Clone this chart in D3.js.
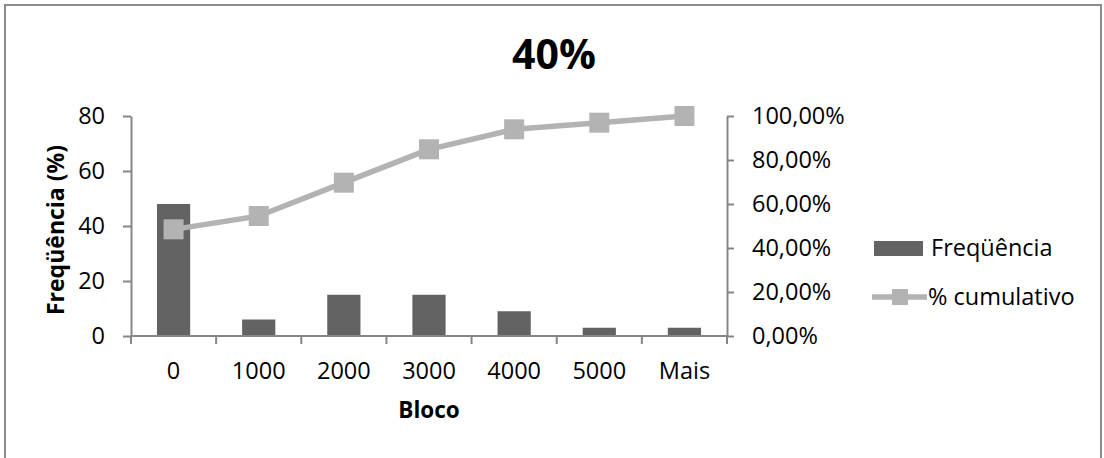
<!DOCTYPE html>
<html>
<head>
<meta charset="utf-8">
<script src="https://cdn.jsdelivr.net/npm/d3@7"></script>
<style>
  html, body { margin: 0; padding: 0; background: #fff; }
  svg { display: block; }
  text { font-family: "Open Sans", sans-serif; fill: #000; }
</style>
</head>
<body>
<svg id="chart" width="1104" height="458"></svg>
<script>
const categories = ["0", "1000", "2000", "3000", "4000", "5000", "Mais"];
const frequencia = [48, 6, 15, 15, 9, 3, 3];
const cumulativo = [0.4848, 0.5455, 0.6970, 0.8485, 0.9394, 0.9697, 1.0];
const leftTicks = [0, 20, 40, 60, 80];
const rightTicks = [0, 0.2, 0.4, 0.6, 0.8, 1.0];
const title = "40%";
const xTitle = "Bloco";
const yTitle = "Freqüência (%)";
const seriesNames = ["Freqüência", "% cumulativo"];

const svg = d3.select("#chart");
const plot = { left: 131, right: 727, top: 116, bottom: 336 };
const barColor = "#636363", lineColor = "#b3b3b3", axisColor = "#868686";
const fs = 23.5;

// border
svg.append("rect").attr("x", 5).attr("y", 5).attr("width", 1096).attr("height", 470)
  .attr("fill", "#fff").attr("stroke", "#8c8c8c").attr("stroke-width", 2);

const x = d3.scaleBand().domain(categories).range([plot.left, plot.right])
  .paddingInner(0.61).paddingOuter(0.305);
const yL = d3.scaleLinear().domain([0, 80]).range([plot.bottom, plot.top]);
const yR = d3.scaleLinear().domain([0, 1]).range([plot.bottom, plot.top]);

// bars
svg.append("g").selectAll("rect").data(frequencia).join("rect")
  .attr("x", (d, i) => x(categories[i]))
  .attr("y", d => yL(d))
  .attr("width", x.bandwidth())
  .attr("height", d => yL(0) - yL(d))
  .attr("fill", barColor);

// axes
const fmtR = d => d3.format(".2f")(d * 100).replace(".", ",") + "%";
function styleAxis(g) {
  g.selectAll(".domain").attr("stroke", axisColor).attr("stroke-width", 2);
  g.selectAll(".tick line").attr("stroke", axisColor).attr("stroke-width", 2);
  g.selectAll(".tick text").style("font-family", '"Open Sans", sans-serif')
    .style("font-size", fs + "px").attr("fill", "#000");
}
const gL = svg.append("g").attr("transform", `translate(${plot.left},0)`)
  .call(d3.axisLeft(yL).tickValues(leftTicks).tickSize(8).tickSizeOuter(0).tickPadding(18));
styleAxis(gL);
const gR = svg.append("g").attr("transform", `translate(${plot.right},0)`)
  .call(d3.axisRight(yR).tickValues(rightTicks).tickFormat(fmtR).tickSize(7).tickSizeOuter(0).tickPadding(18));
styleAxis(gR);

// x axis with ticks at category boundaries
const step = x.step();
const gX = svg.append("g").attr("transform", `translate(0,${plot.bottom})`);
gX.append("line").attr("x1", plot.left).attr("x2", plot.right).attr("y1", 0).attr("y2", 0)
  .attr("stroke", axisColor).attr("stroke-width", 2);
const boundaries = d3.range(categories.length + 1).map(i => plot.left + i * step);
gX.selectAll("line.tk").data(boundaries).join("line").attr("class", "tk")
  .attr("x1", d => d).attr("x2", d => d).attr("y1", 0).attr("y2", 8)
  .attr("stroke", axisColor).attr("stroke-width", 2);
gX.selectAll("text").data(categories).join("text")
  .attr("x", d => x(d) + x.bandwidth() / 2).attr("y", 43)
  .attr("text-anchor", "middle").style("font-size", fs + "px").text(d => d);

// cumulative line
const cx = (d, i) => x(categories[i]) + x.bandwidth() / 2;
const line = d3.line().x(cx).y(d => yR(d));
svg.append("path").datum(cumulativo).attr("d", line)
  .attr("fill", "none").attr("stroke", lineColor).attr("stroke-width", 5.5)
  .attr("stroke-linejoin", "round");
const sq = 20;
svg.append("g").selectAll("rect").data(cumulativo).join("rect")
  .attr("x", (d, i) => cx(d, i) - sq / 2).attr("y", d => yR(d) - sq / 2)
  .attr("width", sq).attr("height", sq).attr("fill", lineColor);

// titles
svg.append("text").attr("x", 554).attr("y", 69).attr("text-anchor", "middle")
  .style("font-size", "41px").style("font-weight", "bold").text(title);
svg.append("text").attr("x", (plot.left + plot.right) / 2).attr("y", 418)
  .attr("text-anchor", "middle").style("font-size", "22.5px").style("font-weight", "bold").text(xTitle);
svg.append("text").attr("transform", "translate(64,230) rotate(-90)")
  .attr("text-anchor", "middle").style("font-size", "23px").style("font-weight", "bold").text(yTitle);

// legend
const lg = svg.append("g");
lg.append("rect").attr("x", 874).attr("y", 241).attr("width", 49).attr("height", 15).attr("fill", barColor);
lg.append("text").attr("x", 931).attr("y", 256).style("font-size", fs + "px").text(seriesNames[0]);
lg.append("line").attr("x1", 872).attr("x2", 927).attr("y1", 297).attr("y2", 297)
  .attr("stroke", lineColor).attr("stroke-width", 5.5);
lg.append("rect").attr("x", 892).attr("y", 289).attr("width", 16).attr("height", 16).attr("fill", lineColor);
lg.append("text").attr("x", 928).attr("y", 305).style("font-size", fs + "px").text(seriesNames[1]);
</script>
</body>
</html>
